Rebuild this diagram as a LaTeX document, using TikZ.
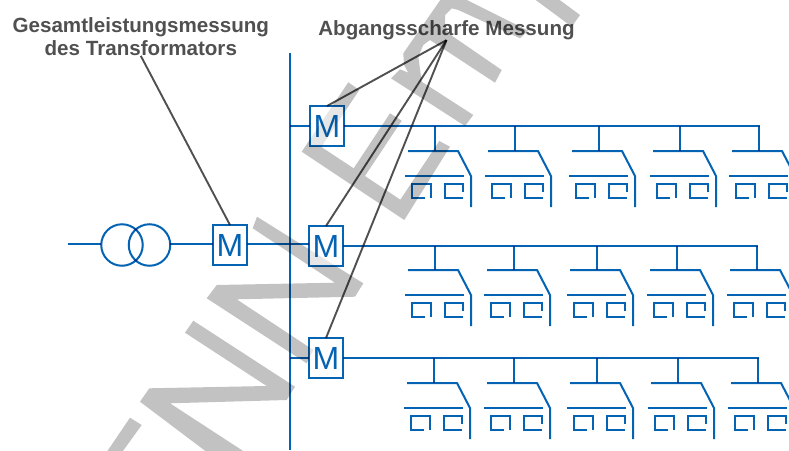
\documentclass[tikz,border=0pt]{standalone}
\usepackage{fontspec}
\setmainfont{Liberation Sans}
\definecolor{wireblue}{HTML}{0563B4}
\definecolor{leadgrey}{HTML}{505050}
\definecolor{markgrey}{HTML}{C2C2C2}
\tikzset{
  wire/.style={draw=wireblue,line width=2pt,line cap=butt,line join=miter},
  lead/.style={draw=leadgrey,line width=1.9pt},
  mbox/.style={draw=wireblue,line width=2pt,minimum width=34pt,minimum height=40pt,inner sep=0pt,outer sep=0pt,text=wireblue,font=\fontsize{32}{32}\selectfont},
  ring/.style={draw=wireblue,line width=2pt,circle,minimum size=41.5pt,inner sep=0pt,outer sep=0pt},
  caption/.style={text=leadgrey,font=\bfseries\fontsize{20.6}{23.6}\selectfont,align=center,inner sep=0pt,outer sep=0pt},
  markfill/.style={fill=markgrey,draw=none},
}
\newcommand{\hhouse}[3]{%
  \draw[wire] (#1,#2) -- (#1,#3);
  \draw[wire] (#1-27,#3) -- (#1+23,#3) -- (#1+36,#3+25) -- (#1+36,#3+56);
  \draw[wire] (#1-30,#3+25) -- (#1+29,#3+25);
  \draw[wire] (#1-4,#3+47) -- (#1-4,#3+33) -- (#1-23,#3+33) -- (#1-23,#3+47) -- (#1-10,#3+47);
  \draw[wire] (#1+28,#3+41) -- (#1+28,#3+33) -- (#1+10,#3+33) -- (#1+10,#3+47) -- (#1+28,#3+47);
}
\begin{document}
\begin{tikzpicture}[x=1pt,y=-1pt]
\useasboundingbox (0,0) rectangle (789,450);
\clip (0,0) rectangle (789,450);
% watermark
\fill[markfill] (257,216.7) -- (363.3,283.3) -- (355,296.7) -- (236.7,299.3) -- (313.3,350) -- (306.7,363.3) -- (206.7,298.3) -- (216.7,285) -- (335,282.7) -- (252.7,228.3) -- cycle;
\fill[markfill] (193.3,320.7) -- (295,386.7) -- (286.7,400) -- (170,403.3) -- (260,462) -- (220,462) -- (140,401.7) -- (149.3,388.3) -- (266.7,386) -- (185,332.7) -- cycle;
\fill[markfill] (130,417.7) -- (141.7,425) -- (115,462) -- (100,462) -- cycle;
\fill[markfill] (348.3,82.3) -- (359.3,90) -- (321.3,147) -- (353.7,168.3) -- (390,113.3) -- (401.7,120.7) -- (365,176) -- (400.3,199.7) -- (439.3,141) -- (450,146.7) -- (404.3,220) -- (301.7,151.7) -- cycle;
\fill[markfill] (391,78.3) -- (465,126) -- (473.3,115) -- (421.7,81.7) -- (418.3,56.7) -- (423.3,45) -- (430,40) -- (495,82.7) -- (501.7,70) -- (448.3,33.3) -- (445,23.3) -- (445,15) -- (451.7,8.3) -- (458.3,10) -- (520,38.3) -- (528.3,30.7) -- (463,-2) -- (441.7,-2) -- (403.3,53.3) -- (404,65) -- (408.3,72.7) -- (400,69.3) -- cycle;
\fill[markfill] (580,15) -- (571.7,26.7) -- (533,-2) -- (557,-2) -- cycle;
% box grounds
\fill[white,opacity=.6] (310,106) rectangle (344,146);
\fill[white,opacity=.6] (309,226) rectangle (343,266);
\fill[white,opacity=.6] (309,338) rectangle (343,378);
\begin{scope}[blend mode=multiply]
\node[mbox] (mt) at (230,245) {M};
\node[mbox] (m1) at (327,126) {M};
\node[mbox] (m2) at (326,246) {M};
\node[mbox] (m3) at (326,358) {M};
\node[ring] (c1) at (122,245) {};
\node[ring] (c2) at (149.5,245) {};
\coordinate (feed) at (68,244);
\coordinate (bustop) at (290,53);
\coordinate (busbot) at (290,450);
\coordinate (b1) at (290,126);
\coordinate (b3) at (290,358);
\coordinate (e1) at (760,126);
\coordinate (e2) at (758,246);
\coordinate (e3) at (759,358);
\draw[wire] (bustop) -- (busbot);
\draw[wire] (feed) -- (feed -| c1.west);
\draw[wire] (c2.east |- feed) -- (mt.west |- feed);
\draw[wire] (mt.east |- feed) -- (m2.west |- feed);
\draw[wire] (b1) -- (m1.west);
\draw[wire] (b3) -- (m3.west);
\draw[wire] (m1.east) -- (e1);
\draw[wire] (m2.east) -- (e2);
\draw[wire] (m3.east) -- (e3);
\foreach \dx in {435,515,599,680,759}{\hhouse{\dx}{126}{151}}
\foreach \dx in {435,514,597,677,757}{\hhouse{\dx}{246}{270}}
\foreach \dx in {434,514,597,678,758}{\hhouse{\dx}{358}{383}}
\node[caption] (gtext) at (140.8,36.5) {Gesamtleistungsmessung\\des Transformators};
\node[caption] (atext) at (446.5,30.5) {Abgangsscharfe Messung};
\draw[lead] (gtext.south) -- (mt.north);
\draw[lead] (atext.south) -- (m1.north);
\draw[lead] (atext.south) -- (m2.north);
\draw[lead] (atext.south) -- (m3.north);
\end{scope}
\end{tikzpicture}
\end{document}
